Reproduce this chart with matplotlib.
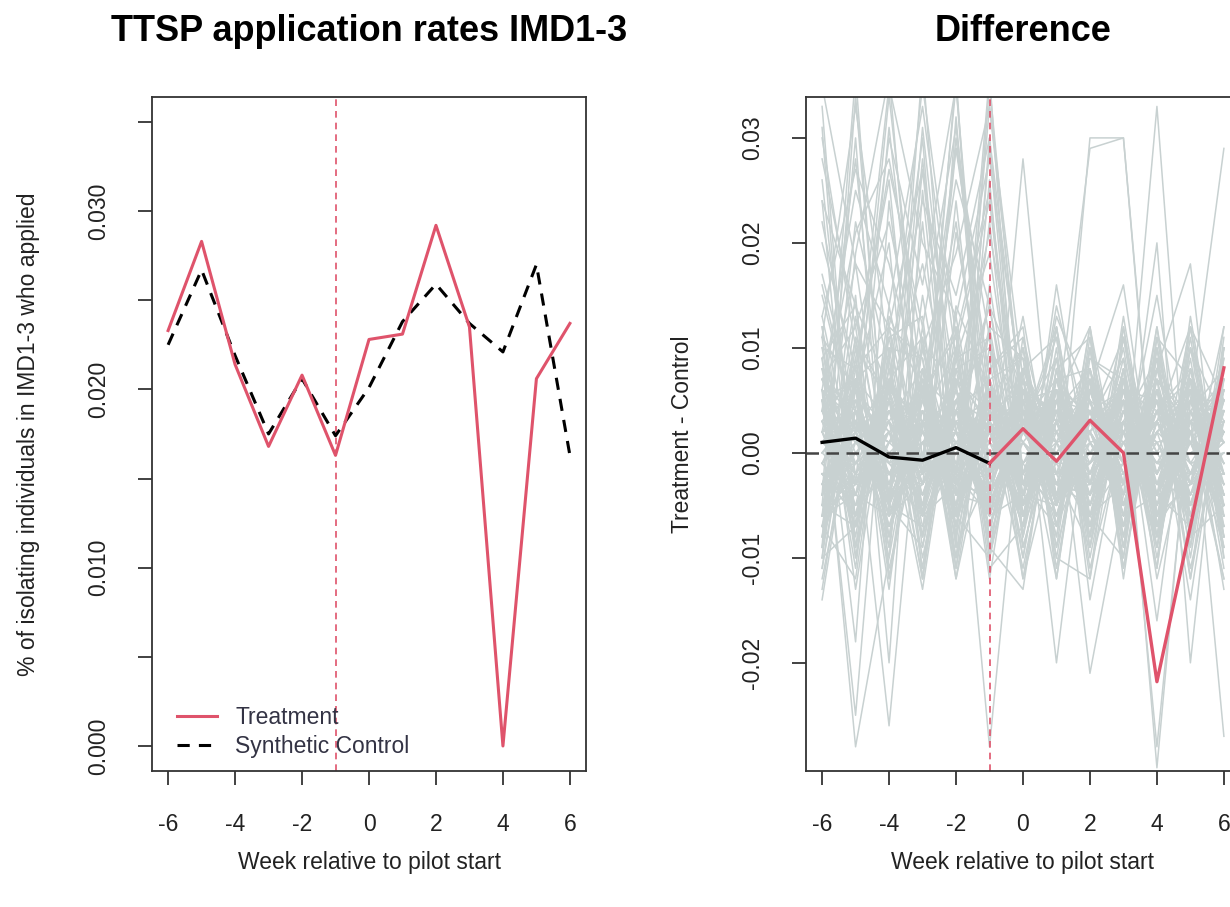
import numpy as np
import matplotlib
matplotlib.use("Agg")
import matplotlib.pyplot as plt

plt.rcParams['font.family'] = ['Liberation Sans', 'DejaVu Sans']

# weeks relative to pilot start
weeks = [-6, -5, -4, -3, -2, -1, 0, 1, 2, 3, 4, 5, 6]

# left panel: application rates
treatment = [0.0233, 0.0283, 0.0214, 0.0168, 0.0208, 0.0163, 0.0228, 0.0231, 0.0292,
             0.0235, 0.0000, 0.0206, 0.0237]
synthetic = [0.0225, 0.0267, 0.0219, 0.0175, 0.0206, 0.0174, 0.0201, 0.0238, 0.0259,
             0.0237, 0.0221, 0.0270, 0.0163]

# right panel: treatment - control gap
gap = [0.0010, 0.0014, -0.0004, -0.0007, 0.0005, -0.0010, 0.0023, -0.0008, 0.0031,
       0.0000, -0.0218, -0.0070, 0.0081]

# placebo gaps (in thousandths), one row per placebo unit
placebo_gaps = [
    [3, -4, 5, -2, 6, -3, 4, -5, 2, 7, -3, 1, -6],
    [-5, 2, -7, 4, -1, 6, -4, 3, -6, 1, 5, -2, 4],
    [6, 1, -3, 7, -5, 2, 8, -1, 4, -4, 2, 6, -3],
    [-2, -6, 4, -1, 3, -7, 1, 5, -3, 6, -5, 3, 1],
    [1, 5, -2, -6, 7, 0, -3, 6, 1, -5, 4, -7, 5],
    [-7, 3, 1, 5, -4, 4, 6, -5, 7, 2, -2, 4, -4],
    [4, -3, 7, 2, -2, -5, 3, 1, -4, 8, -6, 1, 7],
    [-3, 6, -5, 3, 1, 5, -6, 4, 2, -3, 6, -1, -5],
    [8, -1, 2, -4, 5, 1, -2, 7, -5, 3, -1, 5, 2],
    [0, 4, -4, 6, -6, 3, 5, -3, 6, -2, 3, -4, 6],
    [-6, -2, 6, -3, 2, -4, 7, 2, -1, 5, -7, 6, -2],
    [5, 7, -1, 1, -7, 6, -1, -6, 3, -1, 4, 2, -7],
    [-4, 0, 3, 8, -3, -2, 2, 6, -7, 4, 1, -5, 3],
    [2, -7, 5, -5, 4, 7, -5, 0, 5, -6, 7, 3, -1],
    [7, 3, -6, 0, 6, -1, 4, -4, 1, 2, -4, -3, 8],
    [-1, -5, 8, -7, 0, 3, -7, 5, -2, 7, 0, 7, -4],
    [3, 8, -3, 4, -8, 5, 1, -2, 8, -4, 5, -6, 2],
    [-8, 1, 0, -2, 5, -6, 5, 3, -4, 1, -3, 2, 5],
    [6, -4, 4, 5, -1, 2, -3, -7, 4, 6, -6, 4, -3],
    [-3, 6, -7, 1, 3, -3, 8, 1, -6, -1, 8, -1, 0],
    [1, -2, 2, -8, 7, 4, -4, 6, 0, 3, -2, 6, -5],
    [4, 2, -5, 6, -4, -5, 2, -3, 7, -7, 3, -3, 6],
    [-5, -7, 7, -4, 2, 1, 6, 4, -3, 5, -5, 8, -2],
    [7, 4, -2, 3, -6, 7, -2, -5, 3, 0, 6, -4, 3],
    [-2, -3, 1, 7, 4, -7, 3, 7, -5, 4, -1, 1, -6],
    [2, 5, -6, -3, 8, 2, -6, 2, 6, -5, 2, 5, 4],
    [-6, 0, 4, 2, -5, 6, 1, -4, -1, 7, -7, -2, 7],
    [5, -6, 6, -6, 1, -4, 7, 3, 4, -3, 4, 7, -1],
    [0, 3, -8, 5, -2, 5, -5, -1, -7, 2, 7, -5, 2],
    [-4, 7, 3, -1, 6, -1, 4, 5, 2, -6, -4, 3, -3],
    [2, -3, 4, -1, 3, -2, 1, -4, 3, 2, -3, 4, -2],
    [-3, 1, -2, 4, -4, 3, -1, 2, -3, 4, -1, -2, 3],
    [4, 2, -4, 1, 2, -4, 3, -2, 1, -3, 4, 1, -4],
    [-1, -4, 3, -3, 4, 1, -3, 4, -2, 1, -2, 3, 1],
    [1, 4, 0, 3, -2, 4, 2, -3, 4, -1, 3, -4, 2],
    [-2, -1, 2, -4, 1, -3, 4, 1, -4, 3, 1, 2, -3],
    [3, -2, -3, 2, -3, 2, -2, 3, 2, -4, 2, -1, 4],
    [-4, 3, 1, -2, 2, -1, 0, -1, -1, 2, -4, 4, -1],
    [0, -3, 4, 3, -4, 4, -4, 4, 3, 0, 3, -3, 0],
    [5, 1, -1, -4, 3, 0, 3, -4, 0, 3, -3, 2, 3],
    [-1, 4, -4, 1, 0, -4, 2, 0, -3, -2, 4, -3, -2],
    [2, -5, 2, 4, -1, 3, -3, 3, 4, 1, 0, 1, 4],
    [-3, 2, 5, -3, 4, -2, 1, -2, -2, 4, -2, 5, -4],
    [4, -1, -2, 0, -3, 5, -2, 1, 2, -4, 5, -2, 1],
    [-5, 3, 1, 2, 1, -1, 5, -3, -4, 2, -1, 0, 2],
    [5, -2, 3, -6, 4, 2, -5, 3, -2, 6, -4, 2, -3],
    [-6, 4, -1, 5, -3, -4, 3, -6, 5, -2, 3, -5, 6],
    [2, 7, -4, -2, 6, -6, 2, 4, -5, 3, -6, 4, -1],
    [-3, -4, 6, 3, -6, 5, -4, 7, 1, -5, 5, -3, 2],
    [7, 0, -5, 6, 1, -2, 6, -3, -4, 5, -2, 7, -5],
    [-1, 6, 2, -5, 5, 3, -7, 1, 6, -4, 1, -6, 4],
    [4, -5, -2, 4, -5, 6, 1, -4, 3, 6, -5, 3, -2],
    [-5, 2, 7, -3, 3, -5, 5, 6, -3, -1, 6, -2, 5],
    [3, 6, -6, 2, -2, 4, -3, -2, 7, -6, 2, 5, -6],
    [-7, -1, 4, -6, 7, -1, 4, 2, -6, 4, -3, -4, 3],
    [6, 3, -3, 7, -4, 1, -6, 5, 2, -3, 7, 2, -4],
    [-2, -6, 5, -1, 2, -6, 7, -5, 4, 2, -4, 6, 1],
    [1, 5, -7, 3, -7, 6, -2, 3, -5, 7, 0, -5, 6],
    [-4, 2, 3, -4, 6, -3, 3, -7, 1, -4, 6, 1, -7],
    [5, -7, 1, 6, -1, 4, -4, 4, -6, 1, -6, 5, 2],
    [0, 4, -5, -7, 4, -2, 6, -1, 5, -6, 4, -2, -2],
    [-6, -3, 6, 2, -5, 7, -1, 3, -3, 5, -7, 3, 7],
    [4, 7, -2, -3, 2, -7, 5, -6, 6, -2, 2, -7, 3],
    [-3, 1, 4, 5, -6, 2, -7, 6, -1, 3, -1, 4, -5],
    [6, -4, -6, 1, 5, -4, 3, 1, -7, 6, 5, -1, 0],
    [2, 3, -1, -5, 3, 5, -4, -5, 4, -7, 3, 6, -4],
    [-5, 5, 2, 4, -2, -6, 6, 2, -2, 2, -6, -3, 5],
    [3, -6, 7, -2, 1, 3, -2, 7, 3, -5, 4, 2, -6],
    [-1, 2, -3, 6, -7, 6, 2, -3, -5, 4, -3, 7, 2],
    [7, -3, 2, -5, 6, 0, -5, 4, 6, -1, 1, -4, 4],
    [-4, 6, -5, 2, 4, -5, 4, -2, 0, 5, -5, 1, -3],
    [1, -1, 5, -6, -3, 4, -1, 5, -6, -3, 6, -5, 6],
    [-7, 4, -2, 3, 5, -2, 7, -4, 2, 6, -2, 4, -1],
    [5, 1, 4, -1, -5, 3, -6, 6, -4, 1, 3, -6, 5],
    [-2, -5, 1, 5, 2, -7, 3, 0, 5, -5, 7, 2, -5],
    [9, -8, 11, -6, 10, -9, 7, -10, 8, -7, 9, -8, 10],
    [-8, 10, -9, 12, -7, 9, -10, 8, -9, 11, -8, 10, -7],
    [11, 6, -10, 8, -11, 12, -6, 9, -10, 6, -9, 11, -8],
    [-10, -7, 9, -11, 12, -8, 10, -11, 7, -9, 12, -6, 9],
    [7, 12, -8, 10, -6, -10, 11, -7, 10, -11, 6, -9, 12],
    [-11, 8, 12, -9, 8, 10, -8, 12, -7, 8, -10, 7, -11],
    [12, -10, 7, 11, -10, 7, 9, -9, 11, -8, 10, -12, 6],
    [-7, 11, -12, 6, 11, -11, -7, 10, -12, 12, -7, 8, -9],
    [10, -9, 6, -12, 9, 11, -12, 7, 8, -10, 11, -7, 10],
    [-9, 7, 10, 9, -12, 8, 12, -12, 9, 7, -11, 12, -8],
    [12, -6, 9, -10, 5, 11, -8, 6, -3, 10, -9, 4, 8],
    [-9, 13, -4, 7, -12, 3, 10, -7, 12, -5, 6, -11, 3],
    [8, -11, 14, -2, 9, -8, 2, 12, -6, -10, 11, 7, -9],
    [-12, 4, -9, 15, -3, 7, -12, 1, 9, 6, -8, 10, -2],
    [15, 2, -6, 5, 12, -10, 6, -9, 3, 11, -4, -7, 10],
    [-7, -12, 10, -8, 4, 14, -3, 9, -11, 2, 8, 3, -12],
    [10, 8, -13, 11, -9, -2, 13, -5, 7, -8, 3, 12, 5],
    [-10, 11, 5, -12, 14, 6, -9, 3, -4, 9, -12, 2, 7],
    [6, -9, 12, 9, -7, 10, 4, -12, 10, -3, 9, -8, -5],
    [-13, 7, -11, 3, 10, -12, 8, 11, -8, 13, -6, 9, -10],
    [9, 14, -5, -9, 7, 3, -11, 5, 12, -12, 10, -3, 12],
    [-6, -4, 11, 13, -11, 8, 11, -2, -9, 5, -11, 13, -6],
    [11, -13, 7, -5, 13, -6, -4, 13, 5, -6, 12, -10, 9],
    [-11, 9, -8, 10, -2, 12, 9, -10, -12, 7, -2, 6, -13],
    [13, -2, 3, -13, 8, -9, -13, 8, 11, -9, 7, -12, 11],
    [26, -3, 31, 2, 35, -6, 6, -4, 5, -7, 10, -6, 4],
    [-4, 36, -6, 28, -2, 36, -9, 3, -8, 8, -4, 12, -5],
    [8, 3, -26, 8, -6, 29, -5, 14, 1, -3, 33, -9, 7],
    [-6, 22, 8, -8, 32, -6, 28, -5, 30, 30, -7, 6, -8],
    [5, -25, 13, 6, -10, 16, -4, 5, -6, 8, -30, 5, 29],
    [-9, 34, -5, 31, 2, -5, 3, -8, 12, -11, 8, -5, 6],
    [33, -7, 12, -2, 29, 7, -10, 8, -8, 11, -2, 6, -8],
    [-8, 15, -20, 25, -6, 35, 2, 11, -9, 7, -16, 8, -4],
    [4, 28, -5, 37, -4, 22, -6, 5, 4, -4, 20, -20, 10],
    [-6, 9, 26, -6, 24, -4, 8, -20, 6, 16, -6, 2, -12],
    [24, -9, 5, 30, -9, 30, -2, 6, -21, -4, 5, -14, 7],
    [-5, 30, -12, 10, 7, -28, 5, -8, 10, -9, 8, 18, -10],
    [31, -10, 8, -3, 21, 2, -7, 16, -3, 12, -8, 5, 5],
    [-10, 19, 36, -1, 36, -10, 4, -4, 7, -1, 15, -5, 4],
    [6, -28, -10, 22, -8, 26, -8, 12, -14, 3, -9, 7, -27],
    [2, 18, -4, 27, -3, 33, 4, -2, 6, -3, 2, 5, -2],
    [16, 2, 34, 5, 22, -2, 3, 5, -4, 2, -5, 3, 4],
    [-14, 6, 20, -12, 10, 24, -3, 4, 2, -6, 3, -2, 1],
    [30, 10, 5, 18, 2, 14, 6, -4, -3, 5, -28, 4, -3],
    [9, -18, 24, -2, 30, 3, -4, 3, 29, 30, -6, 2, -9],
    [20, 8, 27, 12, 31, 5, 10, -4, 6, -2, 4, 8, -3],
    [6, 25, 14, 33, 9, 19, -3, 7, -5, 4, -6, 3, 5],
    [28, 12, 22, 6, 26, 14, -6, 3, 7, -5, 6, -4, 2],
    [11, 33, 9, 24, 15, 30, 4, -5, 3, 9, -3, 6, -7],
    [17, 4, 30, 16, 35, -2, 8, 2, -6, 3, 9, -8, 4],
    [24, 14, 6, 35, 11, 25, -2, 6, 4, -7, 2, 5, -4],
    [4, 21, 28, 10, 19, 33, 7, -3, 5, 2, -8, 10, 3],
    [35, 18, 12, 27, 6, 21, 3, 9, -2, 6, 4, -3, 8],
    [13, 27, 18, 5, 29, 11, -4, 4, 8, -3, 7, 2, -5],
    [22, 6, 35, 20, 13, 28, 5, -6, 2, 5, -4, 7, 1],
]

RED = '#DF536B'
GREY = '#c8d1d1'
FS = 16.5

fig = plt.figure(figsize=(12.3, 9.07), dpi=100)
ax1 = fig.add_axes([0.1236, 0.150, 0.3528, 0.7431])
ax2 = fig.add_axes([0.6553, 0.150, 0.3528, 0.7431])

# ---- left panel
ax1.axvline(-1, color=RED, lw=1.2, ls=(0, (4, 3)), zorder=1)
ax1.plot(weeks, treatment, color=RED, lw=2.2, label='Treatment', zorder=3)
ax1.plot(weeks, synthetic, color='black', lw=2.2, ls=(0, (4, 3)),
         label='Synthetic Control', zorder=2)
ax1.set_xlim(-6.48, 6.48)
ax1.set_ylim(-0.0014, 0.0364)
ax1.set_yticks(np.arange(0, 0.0351, 0.005))
ax1.set_yticklabels(['0.000', '', '0.010', '', '0.020', '', '0.030', ''])
ax1.set_title('TTSP application rates IMD1-3', fontsize=26, fontweight='bold', pad=40)
ax1.set_ylabel('% of isolating individuals in IMD1-3 who applied', fontsize=FS,
               labelpad=34, color='#222222')
leg = ax1.legend(loc='lower left', bbox_to_anchor=(0.01, -0.012), frameon=False,
                 fontsize=FS, handlelength=1.75, handletextpad=0.8, labelspacing=0.27)
for t in leg.get_texts():
    t.set_color('#333344')

# ---- right panel
for row in placebo_gaps:
    ax2.plot(weeks, np.array(row) / 1000.0, color=GREY, lw=1.1, zorder=1)
ax2.axhline(0, color='#444444', lw=1.8, ls=(0, (5, 3)), zorder=2)
ax2.axvline(-1, color=RED, lw=1.2, ls=(0, (4, 3)), zorder=2)
ax2.plot(weeks[:6], gap[:6], color='black', lw=2.4, zorder=3)
ax2.plot(weeks[5:], gap[5:], color=RED, lw=2.4, zorder=3)
ax2.set_xlim(-6.48, 6.48)
ax2.set_ylim(-0.0303, 0.0339)
ax2.set_yticks([-0.02, -0.01, 0.0, 0.01, 0.02, 0.03])
ax2.set_yticklabels(['-0.02', '-0.01', '0.00', '0.01', '0.02', '0.03'])
ax2.set_title('Difference', fontsize=26, fontweight='bold', pad=40)
ax2.set_ylabel('Treatment - Control', fontsize=FS, labelpad=34, color='#222222')

for ax in (ax1, ax2):
    ax.set_xticks([-6, -4, -2, 0, 2, 4, 6])
    ax.set_xticklabels(['-6', '-4', '-2', '0', '2', '4', '6'])
    ax.set_xlabel('Week relative to pilot start', fontsize=FS, labelpad=11, color='#222222')
    ax.tick_params(direction='out', length=10, width=1.3, labelsize=FS, pad=20,
                   color='#333333', labelcolor='#222222')
    for lab in ax.get_yticklabels():
        lab.set_rotation(90)
        lab.set_va('center')
    for sp in ax.spines.values():
        sp.set_linewidth(1.3)
        sp.set_color('#333333')

fig.savefig('out.png', dpi=100)
